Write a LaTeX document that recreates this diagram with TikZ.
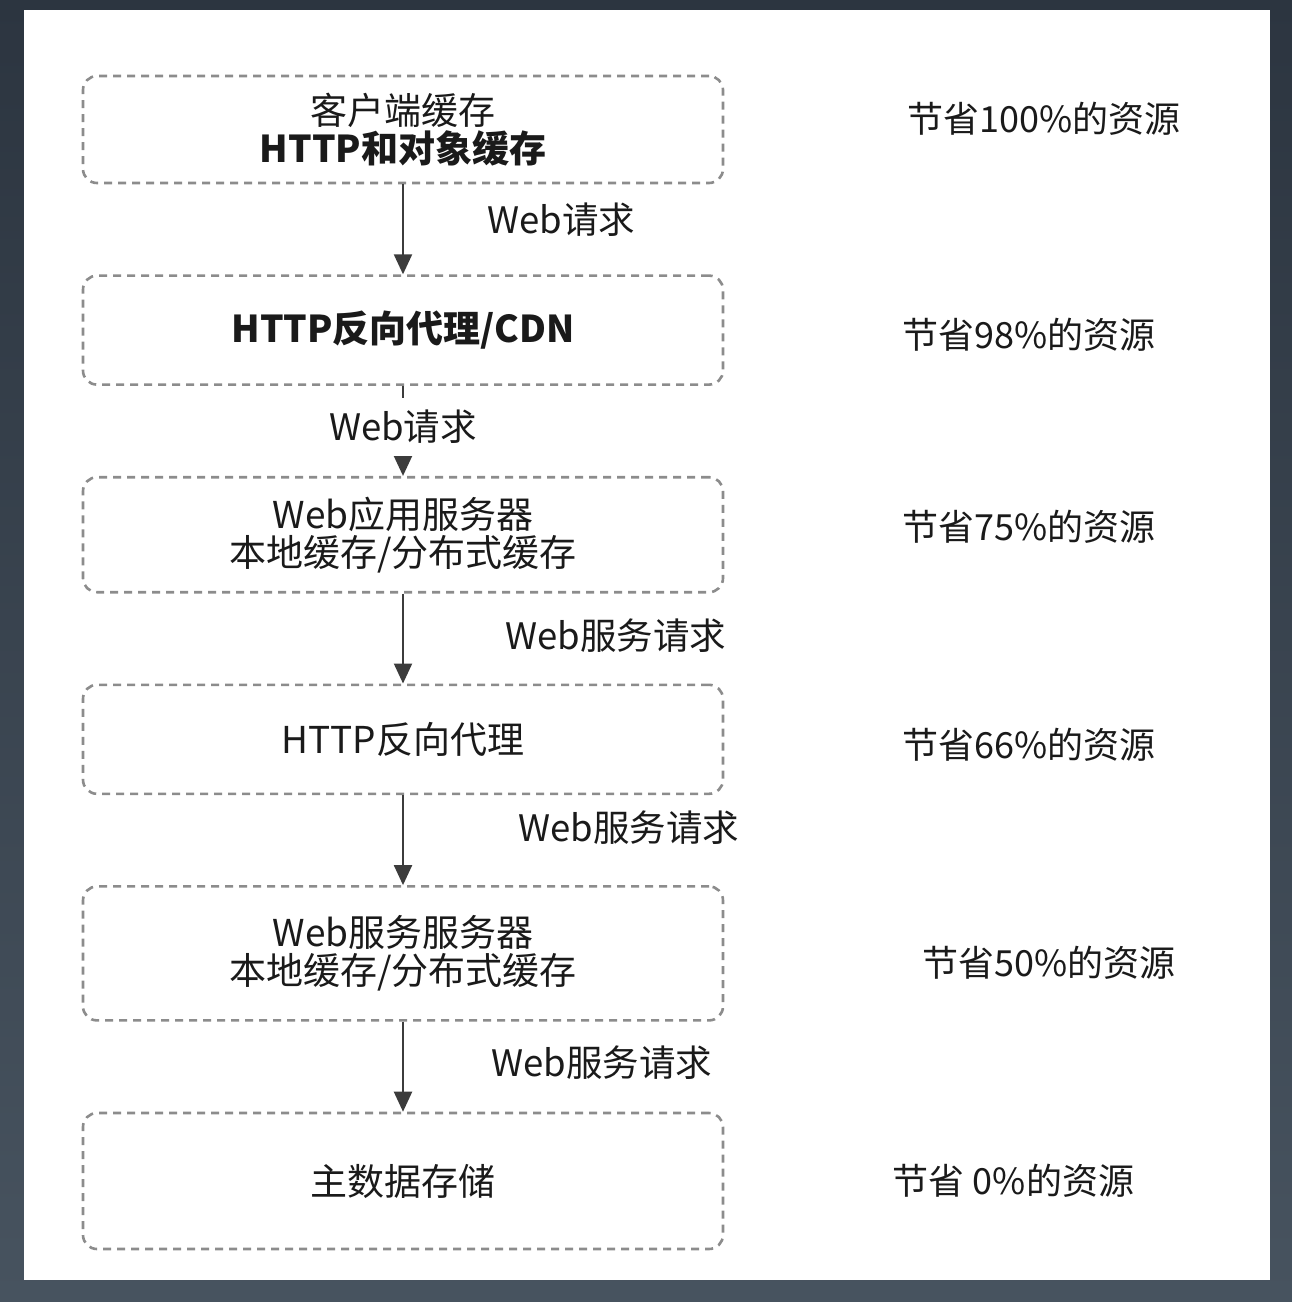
\documentclass[tikz,border=0pt]{standalone}
\usepackage{fontspec}
\setmainfont{Noto Sans CJK SC}
\usepackage{xcolor}
\usetikzlibrary{arrows.meta, positioning}

\definecolor{FrameTop}{HTML}{2C3540}
\definecolor{FrameBottom}{HTML}{47535F}
\definecolor{DashGray}{HTML}{8C8C8C}
\definecolor{InkGray}{HTML}{1A1A1A}

\begin{document}
\begin{tikzpicture}[
  x=1pt, y=-1pt,
  node distance=90pt,
  stage/.style={
    draw=DashGray, dash pattern=on 8pt off 6pt, line width=2.6pt,
    rounded corners=14pt, minimum width=640pt,
    align=center, text=InkGray, font=\fontsize{37}{38}\selectfont
  },
  flow/.style={-{Triangle[length=20pt, width=18pt]}, line width=2.2pt, InkGray!85},
  req/.style={font=\fontsize{36.5}{38}\selectfont, text=InkGray, anchor=west},
  saving/.style={font=\fontsize{36}{38}\selectfont, text=InkGray, anchor=west}
]

% Frame
\shade[top color=FrameTop, bottom color=FrameBottom] (0,0) rectangle (1292,1302);
\fill[white] (24,10) rectangle (1270,1280);
\useasboundingbox (0,0) rectangle (1292,1302);

% Stages
\node[stage, minimum height=107pt] (client) at (403,129.5) {客户端缓存\\\bfseries HTTP和对象缓存};
\node[stage, minimum height=109pt, below=of client] (cdn) {\bfseries HTTP反向代理/CDN};
\node[stage, minimum height=115pt, below=of cdn] (webapp) {Web应用服务器\\本地缓存/分布式缓存};
\node[stage, minimum height=109pt, below=of webapp] (rproxy) {HTTP反向代理};
\node[stage, minimum height=134pt, below=of rproxy] (websvc) {Web服务服务器\\本地缓存/分布式缓存};
\node[stage, minimum height=136pt, below=of websvc] (store) {主数据存储};

% Requests
\draw[flow] (client) -- node[req, xshift=80pt, yshift=10pt] (req1) {Web请求} (cdn);
\draw[flow] (cdn) -- node[font=\fontsize{36.5}{38}\selectfont, text=InkGray, fill=white, inner ysep=12pt, yshift=4pt] (req2) {Web请求} (webapp);
\draw[flow] (webapp) -- node[req, xshift=98pt, yshift=3pt] (req3) {Web服务请求} (rproxy);
\draw[flow] (rproxy) -- node[req, xshift=111pt, yshift=12pt] (req4) {Web服务请求} (websvc);
\draw[flow] (websvc) -- node[req, xshift=84pt, yshift=4pt] (req5) {Web服务请求} (store);

% Savings
\node[saving, right=180pt of client, yshift=11pt] (save1) {节省100\%的资源};
\node[saving, right=175pt of cdn, yshift=-5pt] (save2) {节省98\%的资源};
\node[saving, right=175pt of webapp, yshift=8pt] (save3) {节省75\%的资源};
\node[saving, right=175pt of rproxy, yshift=-5pt] (save4) {节省66\%的资源};
\node[saving, right=195pt of websvc, yshift=-9pt] (save5) {节省50\%的资源};
\node[saving, right=165pt of store] (save6) {节省 0\%的资源};

\end{tikzpicture}
\end{document}
